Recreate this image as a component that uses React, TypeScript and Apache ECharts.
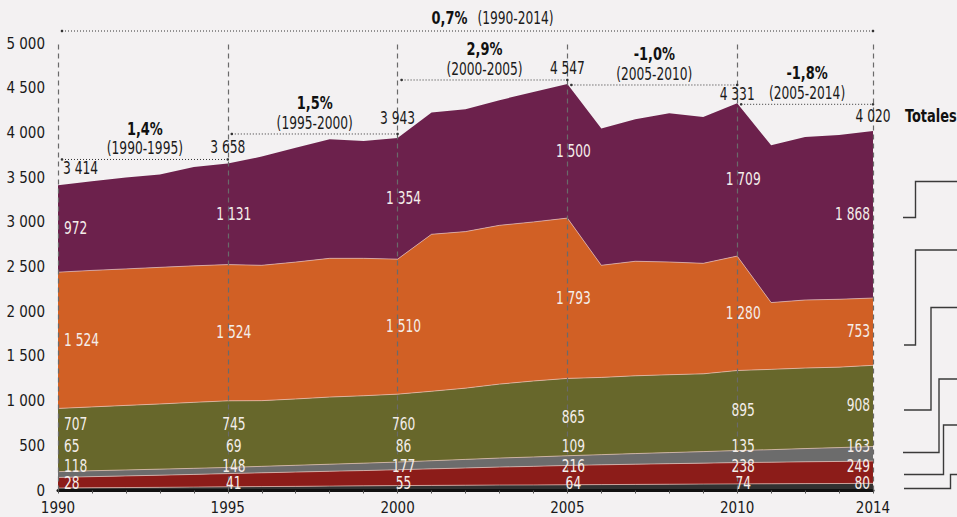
import React, { useEffect, useRef } from "react";
import * as echarts from "echarts";

const years = ["1990","1991","1992","1993","1994","1995","1996","1997","1998","1999","2000","2001","2002","2003","2004","2005","2006","2007","2008","2009","2010","2011","2012","2013","2014"];

const darkVals = [28,31,33,35,38,41,44,46,49,52,55,57,59,61,62,64,66,68,70,72,74,75,77,78,80];
const redVals = [118,124,130,136,142,148,154,160,166,171,177,185,193,201,208,216,221,226,230,234,238,241,244,247,249];
const grayVals = [65,66,67,68,68,69,72,76,79,83,86,91,96,101,105,109,114,119,124,129,135,141,148,155,163];
const oliveVals = [707,714,722,729,738,745,735,742,751,754,760,777,797,827,850,865,864,870,871,870,895,898,901,900,908];
const orangeVals = [1524,1527,1527,1528,1527,1524,1514,1531,1552,1537,1510,1756,1751,1776,1779,1793,1254,1281,1261,1236,1280,747,761,759,753];
const purpleVals = [972,997,1021,1040,1106,1131,1216,1279,1332,1313,1354,1361,1368,1400,1454,1500,1529,1588,1663,1637,1709,1759,1824,1838,1868];

const keyYears = ["1990","1995","2000","2005","2010","2014"];
const totalLabels = [3414, 3658, 3943, 4547, 4331, 4020];

const periodRates = ["1,4%", "1,5%", "2,9%", "-1,0%", "-1,8%"];
const periodNames = ["(1990-1995)", "(1995-2000)", "(2000-2005)", "(2005-2010)", "(2005-2014)"];
const overallRate = "0,7%";
const overallName = "(1990-2014)";
const totalsTitle = "Totales";

const yTicks = { min: 0, max: 5000, interval: 500 };

const FONT = "'DejaVu Sans Condensed', 'Liberation Sans Narrow', 'Roboto', sans-serif";
const BG = "#f3f1f2";
const COLORS = {
  dark: "#313131",
  red: "#8c1c19",
  gray: "#6c6c6c",
  olive: "#67672b",
  orange: "#d16025",
  purple: "#6c214c",
};
const SX = 0.8;

const fmt = (n: number) => String(n).replace(/\B(?=(\d{3})+(?!\d))/g, " ");

export default function App() {
  const ref = useRef<HTMLDivElement>(null);

  useEffect(() => {
    if (!ref.current) return;
    const chart = echarts.init(ref.current, null, { renderer: "svg" });
    const seriesDefs = [
      { name: "dark", data: darkVals, color: COLORS.dark },
      { name: "red", data: redVals, color: COLORS.red },
      { name: "gray", data: grayVals, color: COLORS.gray },
      { name: "olive", data: oliveVals, color: COLORS.olive },
      { name: "orange", data: orangeVals, color: COLORS.orange },
      { name: "purple", data: purpleVals, color: COLORS.purple },
    ];
    const series: any[] = seriesDefs.map((s, i) => ({
      name: s.name,
      type: "line",
      stack: "total",
      data: s.data,
      symbol: "none",
      smooth: false,
      areaStyle: { color: s.color, opacity: 1 },
      lineStyle: i === 5 ? { width: 0 } : { color: "rgba(238,200,190,0.65)", width: 1 },
      z: 2,
      silent: true,
    }));
    series[5].markLine = {
      silent: true,
      symbol: "none",
      label: { show: false },
      lineStyle: { color: "#6a6a6a", type: [5, 4], width: 1.2 },
      data: keyYears.map((y) => ({ xAxis: y })),
      z: 10,
    };

    chart.setOption({
      animation: false,
      backgroundColor: BG,
      grid: { left: 58, right: 84, top: 43.5, bottom: 26.5 },
      xAxis: {
        type: "category",
        data: years,
        boundaryGap: false,
        axisLine: { lineStyle: { color: "#111", width: 3 } },
        axisTick: { show: true, interval: 0, length: 3, lineStyle: { color: "#555" } },
        axisLabel: {
          interval: (idx: number, val: string) => keyYears.includes(val),
          fontFamily: FONT,
          fontSize: 15,
          color: "#1a1a1a",
          margin: 10,
        },
        z: 5,
      },
      yAxis: {
        type: "value",
        min: yTicks.min,
        max: yTicks.max,
        interval: yTicks.interval,
        axisLine: { show: false },
        axisTick: { show: false },
        splitLine: { show: false },
        axisLabel: {
          fontFamily: FONT,
          fontSize: 15,
          color: "#1a1a1a",
          margin: 13,
          formatter: (v: number) => fmt(v),
        },
      },
      series,
    });

    const px = (i: number, v: number) => chart.convertToPixel({ gridIndex: 0 }, [i, v]) as number[];
    const keyIdx = keyYears.map((y) => years.indexOf(y));
    const last = years.length - 1;
    const g: any[] = [];
    const txt = (x: number, y: number, text: string, opts: any = {}) => {
      g.push({
        type: "text",
        x,
        y,
        z: 20,
        silent: true,
        scaleX: SX,
        style: {
          text,
          fontFamily: FONT,
          fontSize: 17,
          fill: "#1a1a1a",
          align: "center",
          verticalAlign: "middle",
          ...opts,
        },
      });
    };

    // band value labels
    const stackDefs = [darkVals, redVals, grayVals, oliveVals, orangeVals, purpleVals];
    const fixedLevels = [80, 272, 490];
    keyIdx.forEach((i) => {
      let cum = 0;
      stackDefs.forEach((arr, s) => {
        const v = arr[i];
        let yv: number;
        if (s < 3) yv = fixedLevels[s];
        else if (s === 3) yv = Math.max(cum + v / 2, 735);
        else yv = cum + v / 2;
        cum += v;
        const p = px(i, yv);
        let x = p[0] + 6;
        let align = "center";
        if (i === 0) { x = p[0] + 6; align = "left"; }
        if (i === last) { x = p[0] - 3; align = "right"; }
        txt(x, p[1], fmt(v), { fill: "#f4eeea", align });
      });
    });

    // totals labels
    const totalDy = [-17, -16, -20, -16, -9, -15];
    keyIdx.forEach((i, k) => {
      const p = px(i, totalLabels[k]);
      let x = p[0];
      let align = "center";
      if (i === 0) { x = p[0] + 5; align = "left"; }
      txt(x, p[1] + totalDy[k], fmt(totalLabels[k]), { align });
    });

    // period growth annotations
    const dotted = (x1: number, x2: number, y: number) => {
      g.push({ type: "line", z: 15, silent: true, shape: { x1, y1: y, x2, y2: y }, style: { stroke: "#333", lineWidth: 1, lineDash: [1, 2] } });
      g.push({ type: "circle", z: 15, silent: true, shape: { cx: x1, cy: y, r: 1.3 }, style: { fill: "#333" } });
      g.push({ type: "circle", z: 15, silent: true, shape: { cx: x2, cy: y, r: 1.3 }, style: { fill: "#333" } });
    };
    for (let k = 0; k < 5; k++) {
      const a = keyIdx[k], b = keyIdx[k + 1];
      const ta = totalLabels[k], tb = totalLabels[k + 1];
      const level = Math.max(ta, tb);
      const y = px(a, level)[1] + (tb > ta ? -4 : 1);
      const xa = px(a, 0)[0] + 4;
      const xb = px(b, 0)[0];
      dotted(xa, xb, y);
      const mid = (xa + xb) / 2;
      txt(mid, y - 31, periodRates[k], { fontWeight: "bold", fill: "#111", fontSize: 18 });
      txt(mid, y - 11, periodNames[k]);
    }
    {
      const x1 = px(0, 0)[0] + 4;
      const x2 = px(last, 0)[0];
      const y = px(0, yTicks.max)[1] - 12.5;
      dotted(x1, x2, y);
      const mid = (x1 + x2) / 2;
      txt(mid, y - 13, overallRate, { fontWeight: "bold", fill: "#111", align: "right", fontSize: 18 });
      txt(mid + 10, y - 13, overallName, { align: "left" });
    }
    // Totales title
    {
      const p = px(last, totalLabels[5]);
      txt(p[0] + 32, p[1] - 15, totalsTitle, { fontWeight: "bold", fill: "#111", align: "left", fontSize: 18 });
    }
    // legend connector step lines (decorative)
    const steps = [
      [[903, 217.5], [915.5, 217.5], [915.5, 181.5], [957, 181.5]],
      [[904, 345], [915.5, 345], [915.5, 250], [957, 250]],
      [[904, 410], [931, 410], [931, 307.5], [957, 307.5]],
      [[903, 452.5], [939, 452.5], [939, 379], [957, 379]],
      [[904, 474.5], [943.5, 474.5], [943.5, 425], [957, 425]],
      [[904, 488.5], [950.5, 488.5], [950.5, 474.5], [957, 474.5]],
    ];
    steps.forEach((pts) => {
      g.push({ type: "polyline", z: 15, silent: true, shape: { points: pts }, style: { stroke: "#3a3a3a", lineWidth: 1.4, fill: null } });
    });

    chart.setOption({ graphic: g });
    return () => chart.dispose();
  }, []);

  return (
    <div
      ref={ref}
      style={{ position: "fixed", left: 0, top: 0, width: 957, height: 517, background: BG }}
    />
  );
}
